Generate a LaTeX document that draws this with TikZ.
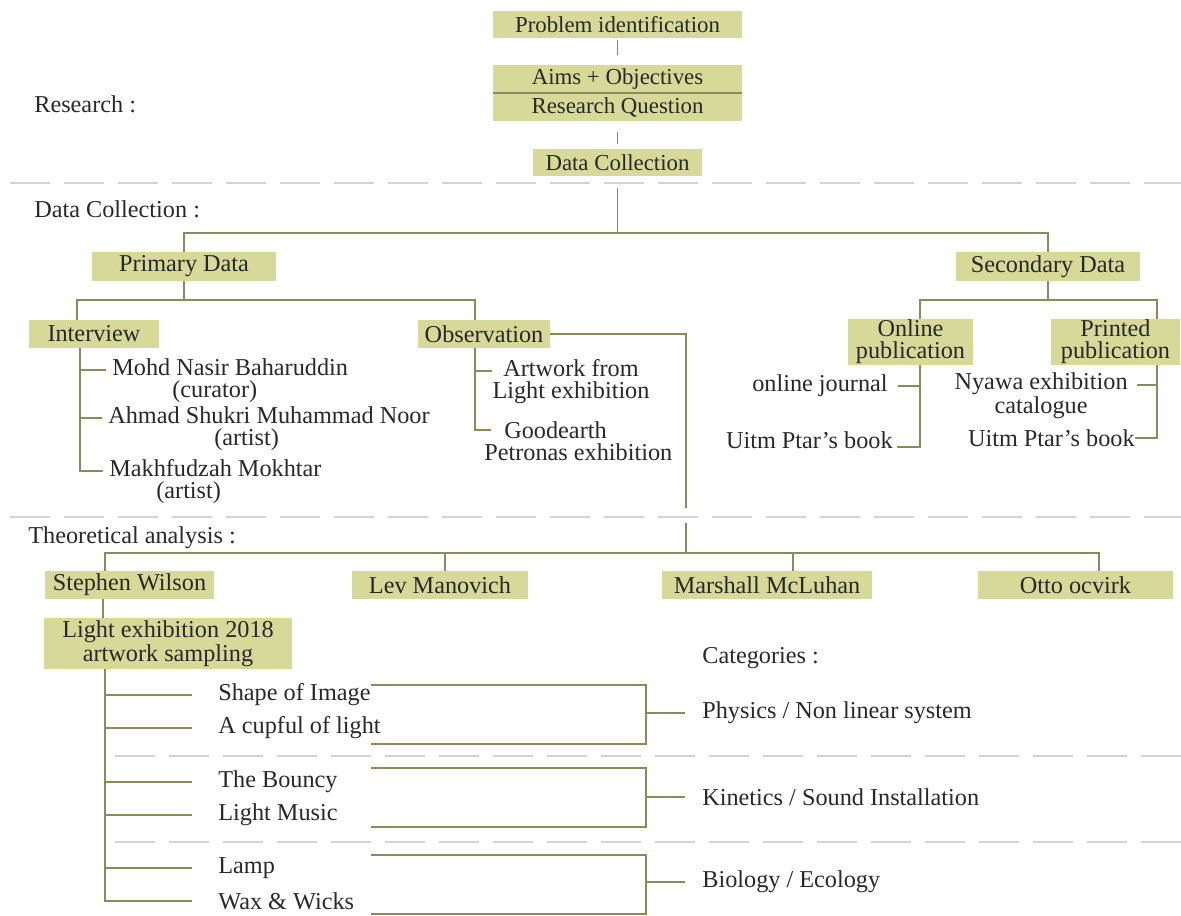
\documentclass[tikz,border=0pt]{standalone}
\usepackage{fontspec}
\setmainfont{Liberation Serif}
\definecolor{boxfill}{RGB}{214,217,152}
\definecolor{linkcol}{RGB}{140,137,90}
\definecolor{sepcol}{RGB}{212,212,212}
\definecolor{txtcol}{RGB}{40,40,40}
\begin{document}
\begin{tikzpicture}[x=0.02cm,y=-0.02cm,
    box/.style={fill=boxfill, text=txtcol, inner sep=0pt, align=center,
                font=\fontsize{13.8}{12.5}\selectfont},
    topbox/.style={box, font=\fontsize{13}{12}\selectfont,
                   minimum width=4.98cm, minimum height=0.54cm},
    lbl/.style={text=txtcol, inner sep=0pt, font=\fontsize{13.8}{12.5}\selectfont},
    link/.style={draw=linkcol, line width=1pt},
    sep/.style={draw=sepcol, line width=0.8pt, dash pattern=on 0.8cm off 0.28cm}]
    \useasboundingbox (0,0) rectangle (1181,916);

    % separators
    \draw[sep] (10,183) -- (1181,183);
    \draw[sep] (10,517) -- (1181,517);
    \draw[sep] (115,756) -- (1181,756);
    \draw[sep] (115,842) -- (1181,842);

    % research
    \node[lbl, anchor=west] (research) at (34,104) {Research :};
    \node[topbox] (prob) at (617.5,24.5) {Problem identification};
    \node[topbox, minimum height=0.56cm] (aims) at (617.5,79) {Aims + Objectives};
    \node[topbox, minimum height=0.56cm] (rq) at (617.5,107) {Research Question};
    \node[topbox, minimum width=3.4cm] (dc) at (617.5,162.5) {Data Collection};
    \draw[link, shorten <=0.04cm, shorten >=0.2cm] (prob) -- (aims);
    \draw[link] (aims.south west) -- (aims.south east);
    \draw[link, shorten <=0.22cm, shorten >=0.1cm] (rq) -- (dc);

    % data collection
    \node[lbl, anchor=west] (dclbl) at (34,209) {Data Collection :};
    \node[box, minimum width=3.68cm, minimum height=0.58cm] (prim) at (184,266.5) {Primary Data};
    \node[box, minimum width=3.68cm, minimum height=0.58cm] (sec) at (1048,266.5) {Secondary Data};
    \draw[link] (prim.north) -- ++(0,-19) coordinate (pbar) -| (sec.north);
    \draw[link, shorten <=0.24cm] (dc.south) -- (dc.south |- pbar);

    \node[box, minimum width=2.6cm, minimum height=0.56cm] (intv) at (94,334) {Interview};
    \node[box, minimum width=2.64cm, minimum height=0.56cm] (obs) at (484,334) {Observation};
    \draw[link] (prim.south) -- ++(0,19);
    \draw[link] ([xshift=-0.34cm]intv.north) -- ++(0,-20) -| ([xshift=-0.18cm]obs.north);

    \node[lbl, align=left, anchor=west] (mohd) at (112,381) {Mohd Nasir Baharuddin\\\hspace{1.2cm}(curator)};
    \node[lbl, align=left, anchor=west] (ahmad) at (108,429) {Ahmad Shukri Muhammad Noor\\\hspace{2.12cm}(artist)};
    \node[lbl, align=left, anchor=west] (mak) at (109,482) {Makhfudzah Mokhtar\\\hspace{0.94cm}(artist)};
    \foreach \n in {mohd,ahmad,mak}
        \draw[link, shorten >=0.12cm] ([xshift=-0.28cm]intv.south) |- ([yshift=0.22cm]\n.west);

    \node[lbl, align=center] (art) at (571,382) {Artwork from\\Light exhibition};
    \node[lbl, align=left, anchor=west] (good) at (484,441) {\hspace{0.4cm}Goodearth\\Petronas exhibition};
    \draw[link] ([xshift=-0.18cm]obs.south) |- ([yshift=0.22cm]art.west);
    \draw[link, shorten >=-0.14cm] ([xshift=-0.18cm]obs.south) |- ([yshift=0.22cm]good.west);

    \coordinate (obsdown) at (686,508);
    \draw[link] (obs.east) -| (obsdown);

    \node[box, minimum width=2.5cm, minimum height=0.92cm] (onl) at (910.5,342) {Online\\publication};
    \node[box, minimum width=2.58cm, minimum height=0.92cm] (prt) at (1115.5,342) {Printed\\publication};
    \draw[link] (sec.south) -- ++(0,19);
    \draw[link] ([xshift=0.19cm]onl.north) -- ++(0,-19) -| ([xshift=0.83cm]prt.north);

    \node[lbl, anchor=east] (ojour) at (888,386) {online journal};
    \node[lbl, anchor=east] (ubook) at (893,440) {Uitm Ptar's book};
    \node[lbl, align=center, anchor=east] (nyawa) at (1128,396) {Nyawa exhibition\\catalogue};
    \node[lbl, anchor=east] (pbook) at (1135,438) {Uitm Ptar's book};
    \draw[link, shorten >=0.2cm] ([xshift=0.19cm]onl.south) |- (ojour.east);
    \draw[link, shorten >=0.08cm] ([xshift=0.19cm]onl.south) |- ([yshift=-0.14cm]ubook.east);
    \draw[link, shorten >=0.18cm] ([xshift=0.83cm]prt.south) |- ([yshift=0.22cm]nyawa.east);
    \draw[link] ([xshift=0.83cm]prt.south) |- (pbook.east);

    % theoretical analysis
    \node[lbl, anchor=west] (thlbl) at (28,538) {Theoretical analysis :};
    \coordinate (thtop) at (686,523);
    \node[box, minimum width=3.38cm, minimum height=0.56cm] (sw) at (129.5,585) {Stephen Wilson};
    \node[box, minimum width=3.52cm, minimum height=0.56cm] (lev) at (440,585) {Lev Manovich};
    \node[box, minimum width=4.2cm, minimum height=0.56cm] (mcl) at (767,585) {Marshall McLuhan};
    \node[box, minimum width=3.9cm, minimum height=0.56cm] (otto) at (1075.5,585) {Otto ocvirk};
    \draw[link] ([xshift=-0.49cm]sw.north) -- ++(0,-18) coordinate (tbar) -| ([xshift=0.47cm]otto.north);
    \draw[link] (thtop) -- (thtop |- tbar);
    \draw[link] ([xshift=0.1cm]lev.north) -- ++(0,-18);
    \draw[link] ([xshift=0.52cm]mcl.north) -- ++(0,-18);

    \node[box, minimum width=4.96cm, minimum height=1.02cm] (light) at (168,643.5) {Light exhibition 2018\\artwork sampling};
    \draw[link] ([xshift=-0.53cm]sw.south) -- ([xshift=-0.53cm]sw.south |- light.north);

    \node[lbl, anchor=west] (shape) at (218,695) {Shape of Image};
    \node[lbl, anchor=west] (cup) at (218,728) {A cupful of light};
    \node[lbl, anchor=west] (bouncy) at (218,782) {The Bouncy};
    \node[lbl, anchor=west] (music) at (218,815) {Light Music};
    \node[lbl, anchor=west] (lamp) at (218,868) {Lamp};
    \node[lbl, anchor=west] (wax) at (218,901) {Wax \& Wicks};
    \foreach \n in {shape,cup,bouncy,music,lamp,wax}
        \draw[link, shorten >=0.52cm] ([xshift=-1.26cm]light.south) |- (\n.west);

    % categories
    \node[lbl, anchor=west] (cats) at (702,658) {Categories :};
    \node[lbl, anchor=west] (phys) at (702,713) {Physics / Non linear system};
    \node[lbl, anchor=west] (kin) at (702,797) {Kinetics / Sound Installation};
    \node[lbl, anchor=west] (bio) at (702,882) {Biology / Ecology};
    \foreach \tp/\bt/\cat in {685/744/phys,768/827/kin,855/914/bio}{
        \draw[link] (371,\tp) -| (646,\bt) -- (371,\bt);
        \draw[link, shorten >=0.34cm] (\cat.west) ++(-56,0) -- (\cat.west);
    }
\end{tikzpicture}
\end{document}
